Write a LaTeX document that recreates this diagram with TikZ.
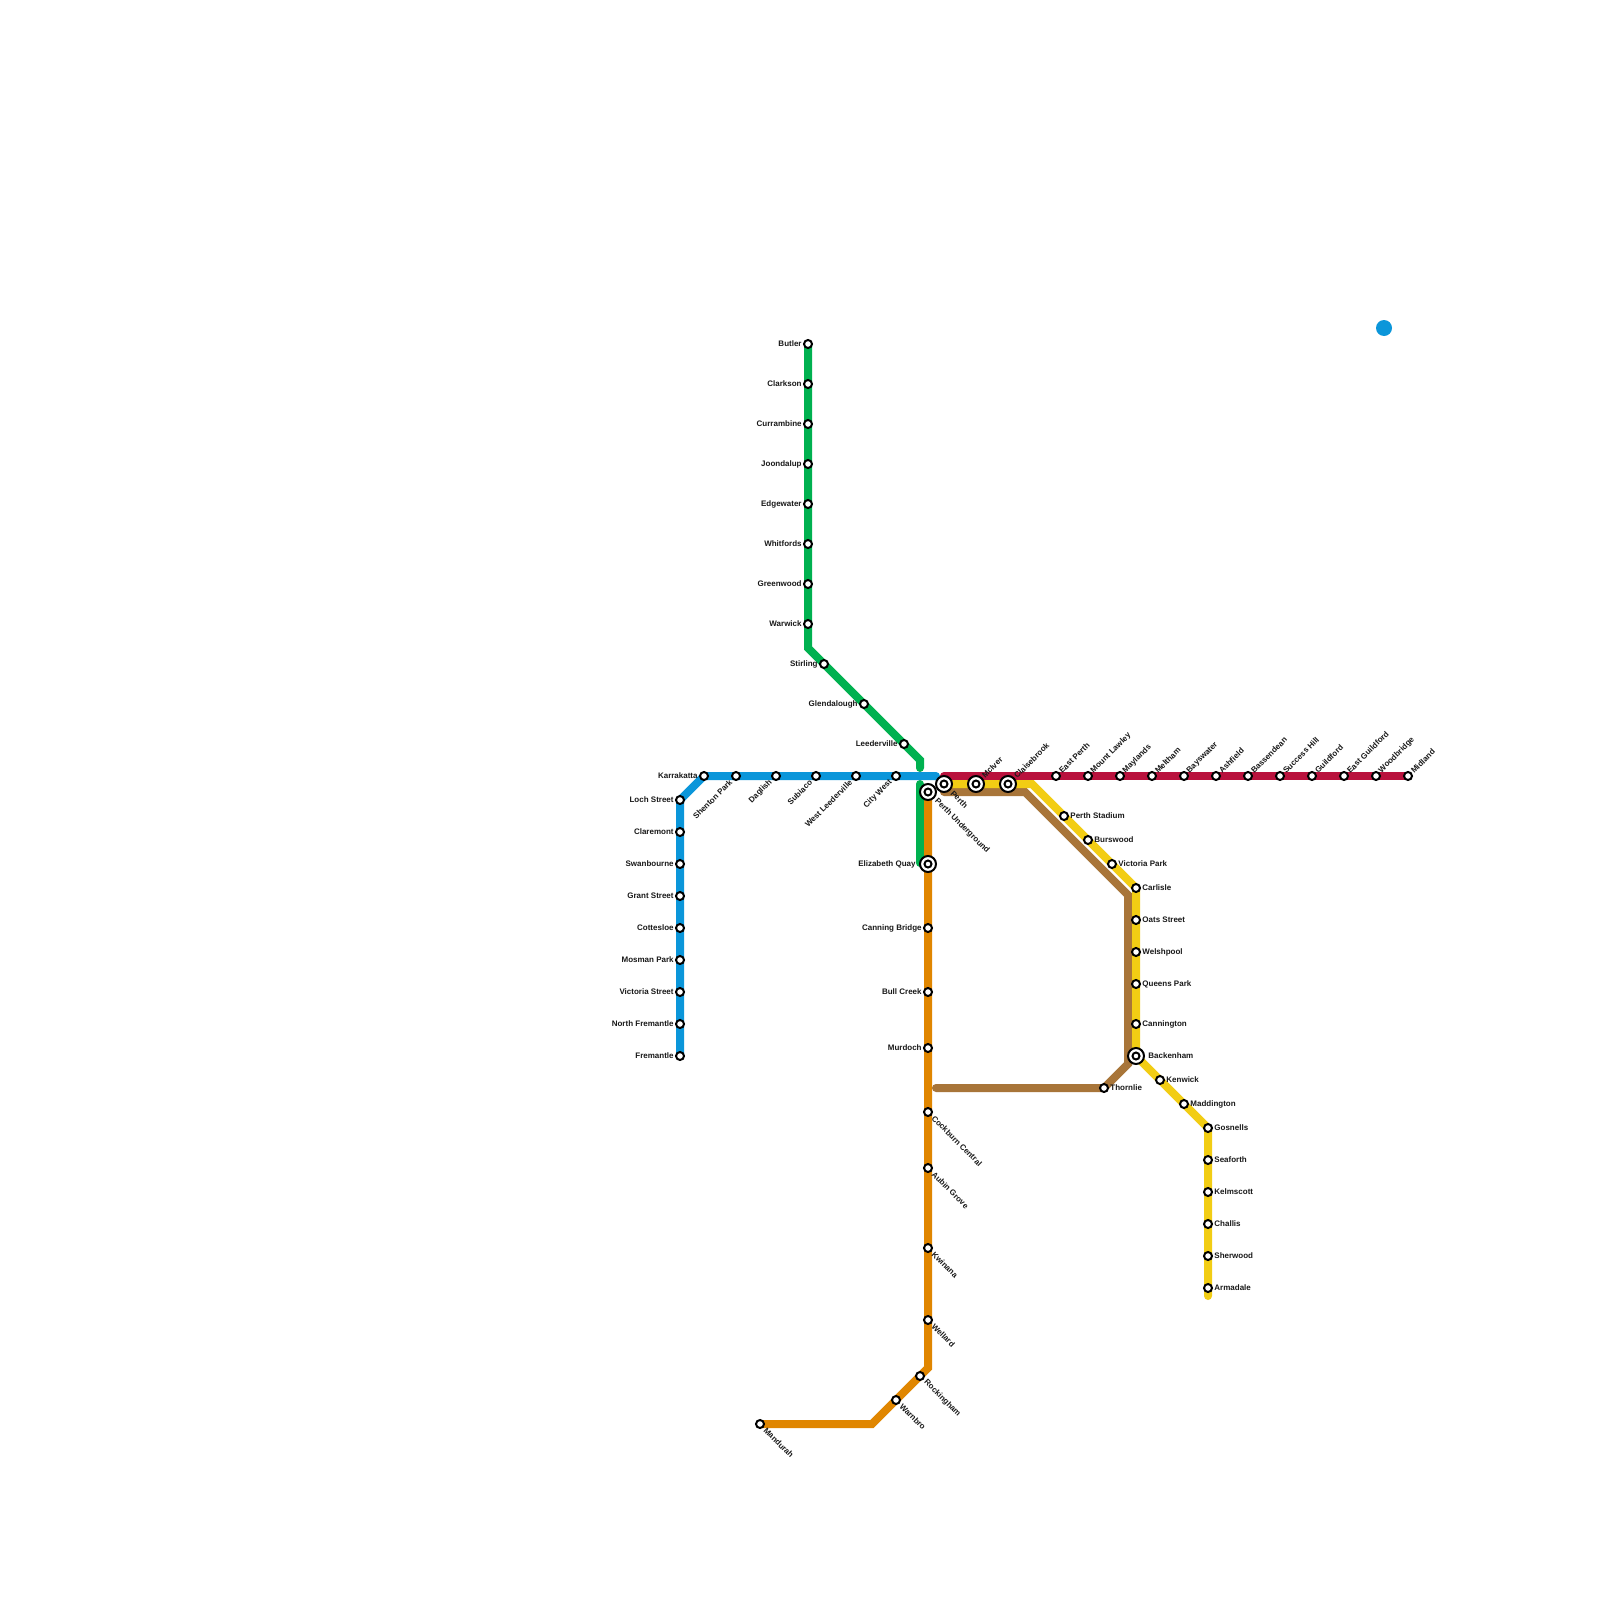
\documentclass[tikz,border=0pt]{standalone}
\usepackage{fontspec}
\setmainfont{Liberation Sans}
\usetikzlibrary{backgrounds}
\definecolor{cblue}{HTML}{0B96DA}
\definecolor{cgreen}{HTML}{00B150}
\definecolor{corange}{HTML}{E08600}
\definecolor{cred}{HTML}{B9123D}
\definecolor{cyellow}{HTML}{F2CD14}
\definecolor{cbrown}{HTML}{A87539}
\tikzset{
  x=0.5pt,y=-0.5pt,
  station/.style={circle,draw=black,fill=white,line width=1pt,minimum size=4pt,inner sep=0pt},
  interchange/.style={circle,draw=black,fill=white,line width=1pt,minimum size=8pt,inner sep=0pt,
    path picture={\draw[line width=1pt] (path picture bounding box.center) circle (1.75pt);}},
  lbl/.style={inner sep=0pt,font=\fontsize{4}{5}\selectfont\bfseries,text=black!90},
  lblL/.style={lbl,anchor=east,xshift=-3pt},
  lblR/.style={lbl,anchor=west,xshift=3pt},
  lblUR/.style={lbl,shift={(45:2.8pt)},rotate=45,anchor=west},
  lblDL/.style={lbl,shift={(225:3.5pt)},rotate=45,anchor=east},
  lblDR/.style={lbl,shift={(-45:3.5pt)},rotate=-45,anchor=west},
  xL/.style={lbl,anchor=east,xshift=-6pt},
  xR/.style={lbl,anchor=west,xshift=6pt},
  xUR/.style={lbl,shift={(45:5pt)},rotate=45,anchor=west},
  xDR/.style={lbl,shift={(-45:5.5pt)},rotate=-45,anchor=west},
  metro/.style={line width=4pt,line cap=round,line join=miter,miter limit=4},
}
\newcommand{\stn}[5]{\node[station] (#1) at (#2,#3) {}; \node[lbl#5] (#1-l) at (#2,#3) {#4};}
\newcommand{\inc}[5]{\node[interchange] (#1) at (#2,#3) {}; \node[x#5] (#1-l) at (#2,#3) {#4};}
\begin{document}
\begin{tikzpicture}
\useasboundingbox (0,0) rectangle (1600,1600);
% bends and free line ends
\coordinate (gbend1) at (808,648);
\coordinate (gbend2) at (920,760);
\coordinate (gtopend) at (920,768);
\coordinate (glowstart) at (920,784);
\coordinate (glowend) at (920,863);
\coordinate (bend) at (936,776);
\coordinate (rstart) at (944,776);
\coordinate (ybend) at (1032,784);
\coordinate (yend) at (1208,1296);
\coordinate (bstart) at (944,792);
\coordinate (bb1) at (1025,792);
\coordinate (bb2) at (1128,895);
\coordinate (bb3) at (1128,1064);
\coordinate (bend2) at (936,1088);
\coordinate (ob1) at (928,1368);
\coordinate (ob2) at (872,1424);
% blue line
\stn{kar}{704}{776}{Karrakatta}{L}
\stn{she}{736}{776}{Shenton Park}{DL}
\stn{dag}{776}{776}{Daglish}{DL}
\stn{sub}{816}{776}{Subiaco}{DL}
\stn{wle}{856}{776}{West Leederville}{DL}
\stn{cwe}{896}{776}{City West}{DL}
\stn{loc}{680}{800}{Loch Street}{L}
\stn{cla}{680}{832}{Claremont}{L}
\stn{swa}{680}{864}{Swanbourne}{L}
\stn{gra}{680}{896}{Grant Street}{L}
\stn{cot}{680}{928}{Cottesloe}{L}
\stn{mos}{680}{960}{Mosman Park}{L}
\stn{vic}{680}{992}{Victoria Street}{L}
\stn{nfr}{680}{1024}{North Fremantle}{L}
\stn{fre}{680}{1056}{Fremantle}{L}
% green line
\stn{but}{808}{344}{Butler}{L}
\stn{clk}{808}{384}{Clarkson}{L}
\stn{cur}{808}{424}{Currambine}{L}
\stn{joo}{808}{464}{Joondalup}{L}
\stn{edg}{808}{504}{Edgewater}{L}
\stn{whi}{808}{544}{Whitfords}{L}
\stn{gre}{808}{584}{Greenwood}{L}
\stn{war}{808}{624}{Warwick}{L}
\stn{sti}{824}{664}{Stirling}{L}
\stn{gle}{864}{704}{Glendalough}{L}
\stn{lee}{904}{744}{Leederville}{L}
% orange line
\inc{pun}{928}{792}{Perth Underground}{DR}
\inc{eli}{928}{864}{Elizabeth Quay}{L}
\stn{can}{928}{928}{Canning Bridge}{L}
\stn{bul}{928}{992}{Bull Creek}{L}
\stn{mur}{928}{1048}{Murdoch}{L}
\stn{coc}{928}{1112}{Cockburn Central}{DR}
\stn{aub}{928}{1168}{Aubin Grove}{DR}
\stn{kwi}{928}{1248}{Kwinana}{DR}
\stn{wel}{928}{1320}{Wellard}{DR}
\stn{roc}{920}{1376}{Rockingham}{DR}
\stn{wan}{896}{1400}{Warnbro}{DR}
\stn{man}{760}{1424}{Mandurah}{DR}
% city interchanges
\inc{per}{944}{784}{Perth}{DR}
\inc{mci}{976}{784}{McIver}{UR}
\inc{cbk}{1008}{784}{Claisebrook}{UR}
% red line
\stn{epe}{1056}{776}{East Perth}{UR}
\stn{mla}{1088}{776}{Mount Lawley}{UR}
\stn{may}{1120}{776}{Maylands}{UR}
\stn{mel}{1152}{776}{Meltham}{UR}
\stn{bay}{1184}{776}{Bayswater}{UR}
\stn{ash}{1216}{776}{Ashfield}{UR}
\stn{bas}{1248}{776}{Bassendean}{UR}
\stn{suc}{1280}{776}{Success Hill}{UR}
\stn{gui}{1312}{776}{Guildford}{UR}
\stn{egu}{1344}{776}{East Guildford}{UR}
\stn{woo}{1376}{776}{Woodbridge}{UR}
\stn{mid}{1408}{776}{Midland}{UR}
% yellow line
\stn{pst}{1064}{816}{Perth Stadium}{R}
\stn{bur}{1088}{840}{Burswood}{R}
\stn{vpk}{1112}{864}{Victoria Park}{R}
\stn{car}{1136}{888}{Carlisle}{R}
\stn{oat}{1136}{920}{Oats Street}{R}
\stn{wep}{1136}{952}{Welshpool}{R}
\stn{que}{1136}{984}{Queens Park}{R}
\stn{cnn}{1136}{1024}{Cannington}{R}
\inc{bec}{1136}{1056}{Backenham}{R}
\stn{ken}{1160}{1080}{Kenwick}{R}
\stn{mad}{1184}{1104}{Maddington}{R}
\stn{gos}{1208}{1128}{Gosnells}{R}
\stn{sea}{1208}{1160}{Seaforth}{R}
\stn{kel}{1208}{1192}{Kelmscott}{R}
\stn{cha}{1208}{1224}{Challis}{R}
\stn{she2}{1208}{1256}{Sherwood}{R}
\stn{arm}{1208}{1288}{Armadale}{R}
% brown line
\stn{tho}{1104}{1088}{Thornlie}{R}
% blue dot
\node[circle,fill=cblue,minimum size=8pt,inner sep=0pt] (dot) at (1384,328) {};
\begin{scope}[on background layer]
  \fill[white] (0,0) rectangle (1600,1600);
  \draw[metro,cgreen] (but.center) -- (war.center) -- (gbend1) -- (sti.center) -- (lee.center) -- (gbend2) -- (gtopend);
  \draw[metro,cgreen] (glowstart) -- (glowend);
  \draw[metro,corange] (pun.center) -- (wel.center) -- (ob1) -- (ob2) -- (man.center);
  \draw[metro,cbrown] (bstart) -- (bb1) -- (bb2) -- (bb3) -- (tho.center) -- (bend2);
  \draw[metro,cyellow] (per.center) -- (ybend) -- (car.center) -- (bec.center) -- (gos.center) -- (yend);
  \draw[metro,cred] (rstart) -- (mid.center);
  \draw[metro,cblue] (fre.center) -- (loc.center) -- (kar.center) -- (bend);
\end{scope}
\end{tikzpicture}
\end{document}
